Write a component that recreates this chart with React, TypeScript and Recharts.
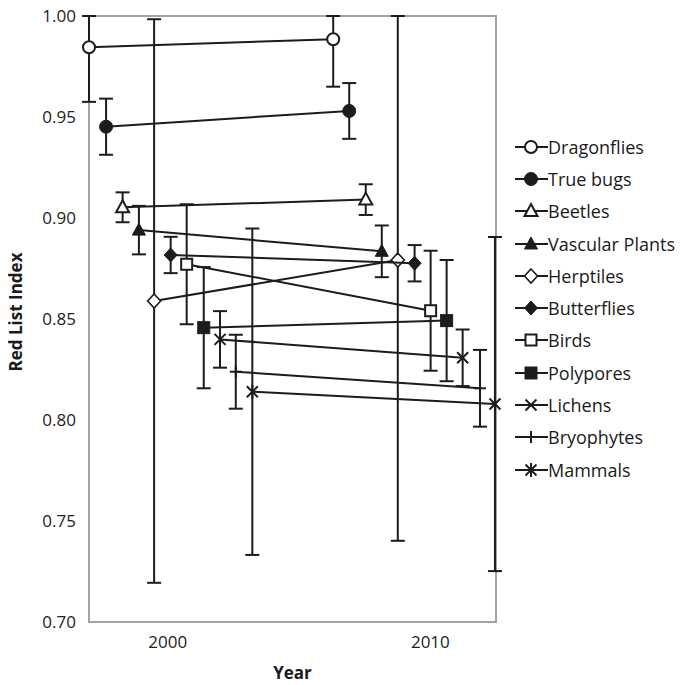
import React from 'react';
import { ComposedChart, Scatter, XAxis, YAxis, ErrorBar, ReferenceArea } from 'recharts';

// ---- data ----
const species = [
  'Dragonflies', 'True bugs', 'Beetles', 'Vascular Plants', 'Herptiles',
  'Butterflies', 'Birds', 'Polypores', 'Lichens', 'Bryophytes', 'Mammals',
];
const markerKinds = [
  'openCircle', 'filledCircle', 'openTriangle', 'filledTriangle', 'openDiamond',
  'filledDiamond', 'openSquare', 'filledSquare', 'cross', 'plus', 'star',
];
// plotted (jittered) positions of the two assessments
const firstYears = [1997.0, 1997.65, 1998.28, 1998.9, 1999.48, 2000.11, 2000.72, 2001.37, 2001.99, 2002.59, 2003.22];
const secondYears = [2006.3, 2006.91, 2007.54, 2008.15, 2008.76, 2009.4, 2010.01, 2010.62, 2011.23, 2011.89, 2012.46];
const firstRli = [0.9845, 0.9452, 0.9053, 0.894, 0.8589, 0.8817, 0.8771, 0.8457, 0.8399, 0.8239, 0.814];
const secondRli = [0.9885, 0.953, 0.9091, 0.8835, 0.8792, 0.8776, 0.8541, 0.8492, 0.8308, 0.8157, 0.8079];
const firstErr = [0.027, 0.0139, 0.0074, 0.012, 0.1395, 0.009, 0.0297, 0.030, 0.014, 0.0183, 0.0808];
const secondErr = [0.0235, 0.0138, 0.0076, 0.0128, 0.139, 0.009, 0.0297, 0.030, 0.014, 0.019, 0.0827];
const yTicks = [0.7, 0.75, 0.8, 0.85, 0.9, 0.95, 1.0];
const xTicks = [2000, 2010];
const xDomain = [1997, 2012.5];
const yDomain = [0.7, 1.0];

const INK = '#1c1c1c';
const FRAME = '#a3a3a3';
const FONT = '"Open Sans", sans-serif';

// the chart is drawn in page coordinates (wrapper cancels the body margin)
const W = 687;
const H = 685;
const M = { top: 16, right: 191, bottom: 0, left: 0 };
const Y_AXIS_W = 89;
const X_AXIS_H = 63;

// error bars are cut at the top of the frame, as in the reference
const errRange = (v: number, e: number) => [e, Math.max(0, Math.min(e, yDomain[1] - v))];

const series = species.map((name, i) => ({
  name,
  kind: markerKinds[i],
  points: [
    { x: firstYears[i], y: firstRli[i], err: errRange(firstRli[i], firstErr[i]) },
    { x: secondYears[i], y: secondRli[i], err: errRange(secondRli[i], secondErr[i]) },
  ],
}));

function Marker({ kind, cx, cy }: { kind: string; cx: number; cy: number }) {
  if (cx == null || cy == null) return <g />;
  const sw = 2;
  switch (kind) {
    case 'openCircle':
      return <circle cx={cx} cy={cy} r={6} fill="#fff" stroke={INK} strokeWidth={sw} />;
    case 'filledCircle':
      return <circle cx={cx} cy={cy} r={6.5} fill={INK} stroke={INK} strokeWidth={1} />;
    case 'openTriangle':
    case 'filledTriangle': {
      const pts = `${cx},${cy - 7} ${cx + 6.5},${cy + 5} ${cx - 6.5},${cy + 5}`;
      return (
        <polygon
          points={pts}
          fill={kind === 'openTriangle' ? '#fff' : INK}
          stroke={INK}
          strokeWidth={kind === 'openTriangle' ? sw : 1}
          strokeLinejoin="miter"
        />
      );
    }
    case 'openDiamond':
    case 'filledDiamond': {
      const pts = `${cx},${cy - 7} ${cx + 6.5},${cy} ${cx},${cy + 7} ${cx - 6.5},${cy}`;
      return (
        <polygon
          points={pts}
          fill={kind === 'openDiamond' ? '#fff' : INK}
          stroke={INK}
          strokeWidth={kind === 'openDiamond' ? 1.6 : 1}
        />
      );
    }
    case 'openSquare':
      return <rect x={cx - 5.5} y={cy - 5.5} width={11} height={11} fill="#fff" stroke={INK} strokeWidth={sw} />;
    case 'filledSquare':
      return <rect x={cx - 6} y={cy - 6} width={12} height={12} fill={INK} stroke={INK} strokeWidth={1} />;
    case 'cross':
      return (
        <g stroke={INK} strokeWidth={2}>
          <line x1={cx - 5.5} y1={cy - 5.5} x2={cx + 5.5} y2={cy + 5.5} />
          <line x1={cx - 5.5} y1={cy + 5.5} x2={cx + 5.5} y2={cy - 5.5} />
        </g>
      );
    case 'plus':
      return (
        <g stroke={INK} strokeWidth={2}>
          <line x1={cx - 6} y1={cy} x2={cx + 6} y2={cy} />
          <line x1={cx} y1={cy - 6} x2={cx} y2={cy + 6} />
        </g>
      );
    case 'star':
      return (
        <g stroke={INK} strokeWidth={2}>
          <line x1={cx - 5.5} y1={cy - 5.5} x2={cx + 5.5} y2={cy + 5.5} />
          <line x1={cx - 5.5} y1={cy + 5.5} x2={cx + 5.5} y2={cy - 5.5} />
          <line x1={cx} y1={cy - 7} x2={cx} y2={cy + 7} />
        </g>
      );
    default:
      return <g />;
  }
}

const tickStyle = { fontSize: 17, fill: '#222', fontFamily: FONT };

const plotTop = M.top;
const plotBottom = H - M.bottom - X_AXIS_H;
const plotLeft = M.left + Y_AXIS_W;
const plotRight = W - M.right;

export default function App() {
  return (
    <div style={{ position: 'relative', width: W, height: H, marginTop: -8, marginLeft: -8, fontFamily: FONT }}>
      <ComposedChart width={W} height={H} margin={M}>
        <XAxis
          type="number"
          dataKey="x"
          domain={xDomain}
          ticks={xTicks}
          axisLine={false}
          tickLine={false}
          tickMargin={8}
          height={X_AXIS_H}
          tick={tickStyle}
          label={{
            content: () => (
              <text
                x={(plotLeft + plotRight) / 2}
                y={H - 6}
                textAnchor="middle"
                fontFamily={FONT}
                fontWeight={700}
                fontSize={17}
                fill="#1a1a1a"
              >
                Year
              </text>
            ),
          }}
        />
        <YAxis
          yAxisId="main"
          type="number"
          dataKey="y"
          domain={yDomain}
          allowDataOverflow
          ticks={yTicks}
          tickFormatter={(v: number) => v.toFixed(2)}
          axisLine={false}
          tickLine={false}
          tickMargin={7}
          width={Y_AXIS_W}
          tick={tickStyle}
          label={{
            content: () => (
              <text
                transform={`translate(22, ${(plotTop + plotBottom) / 2 - 7}) rotate(-90)`}
                textAnchor="middle"
                fontFamily={FONT}
                fontWeight={700}
                fontSize={17}
                fill="#1a1a1a"
              >
                Red List Index
              </text>
            ),
          }}
        />
        <YAxis yAxisId="pts" type="number" dataKey="y" domain={yDomain} hide />
        <ReferenceArea
          yAxisId="main"
          x1={xDomain[0]}
          x2={xDomain[1]}
          y1={yDomain[0]}
          y2={yDomain[1]}
          fill="none"
          fillOpacity={0}
          stroke={FRAME}
          strokeWidth={2}
        />
        {series.map((s) => (
          <Scatter
            key={'err-' + s.name}
            yAxisId="main"
            data={s.points}
            shape={() => <g />}
            isAnimationActive={false}
            legendType="none"
          >
            <ErrorBar dataKey="err" direction="y" width={7} stroke={INK} strokeWidth={2} isAnimationActive={false} />
          </Scatter>
        ))}
        {series.map((s) => (
          <Scatter
            key={'pts-' + s.name}
            name={s.name}
            yAxisId="pts"
            data={s.points}
            line={{ stroke: INK, strokeWidth: 2 }}
            lineType="joint"
            shape={(p: any) => <Marker kind={s.kind} cx={p.cx} cy={p.cy} />}
            isAnimationActive={false}
          />
        ))}
      </ComposedChart>
      <div style={{ position: 'absolute', left: 515, top: 130.5, width: 172 }}>
        {series.map((s) => (
          <div key={s.name} style={{ height: 32.3, display: 'flex', alignItems: 'center' }}>
            <svg width={33} height={20} style={{ display: 'block', flex: 'none' }}>
              <line x1={0} y1={10} x2={33} y2={10} stroke={INK} strokeWidth={2} />
              <Marker kind={s.kind} cx={16} cy={10} />
            </svg>
            <span style={{ fontSize: 18, color: '#1a1a1a', lineHeight: 1, whiteSpace: 'nowrap' }}>{s.name}</span>
          </div>
        ))}
      </div>
    </div>
  );
}
